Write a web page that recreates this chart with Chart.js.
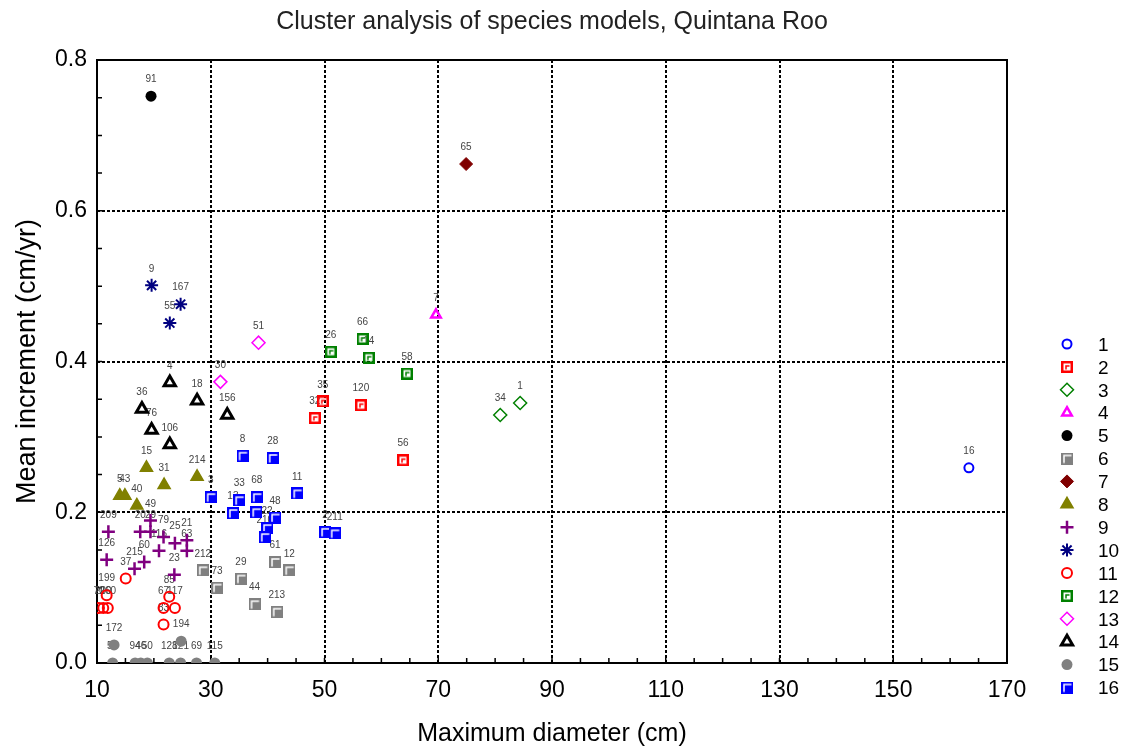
<!DOCTYPE html>
<html>
<head>
<meta charset="utf-8">
<script src="https://cdn.jsdelivr.net/npm/chart.js@4.4.0/dist/chart.umd.min.js"></script>
<style>
  html, body { margin: 0; padding: 0; background: #fff; }
</style>
</head>
<body>
<canvas id="c" width="1125" height="749"></canvas>
<script>
const FONT = "'Liberation Sans', Arial, sans-serif";

// cluster names (legend)
const clusterNames = ["1","2","3","4","5","6","7","8","9","10","11","12","13","14","15","16"];

// maximum diameter (cm) per cluster
const diameters = [
  [163.3],
  [49.7, 48.3, 56.4, 63.8],
  [84.4, 80.9],
  [69.6],
  [19.5],
  [28.6, 31.1, 35.3, 37.7, 41.3, 43.8, 41.6],
  [74.9],
  [18.7, 21.8, 27.6, 14.0, 14.9, 17.0],
  [12.0, 11.7, 17.6, 19.4, 19.4, 21.7, 23.7, 25.8, 20.9, 25.8, 18.3, 16.6, 23.6],
  [19.6, 24.7, 22.8],
  [15.05, 11.7, 10.35, 11.1, 11.9, 22.7, 21.7, 23.7, 21.7],
  [51.1, 56.7, 57.8, 64.5],
  [38.4, 31.7],
  [22.8, 27.6, 17.9, 19.6, 22.8, 32.9],
  [13.0, 24.8, 12.75, 16.7, 17.7, 18.85, 22.7, 24.7, 27.5, 30.7],
  [35.6, 40.9, 30.0, 35.0, 38.1, 45.2, 33.9, 38.0, 41.3, 39.9, 39.5, 50.1, 51.8]
];

// mean increment (cm/yr) per cluster
const increments = [
  [0.259],
  [0.347, 0.325, 0.342, 0.269],
  [0.345, 0.329],
  [0.462],
  [0.752],
  [0.123, 0.100, 0.112, 0.078, 0.134, 0.123, 0.068],
  [0.662],
  [0.259, 0.236, 0.247, 0.222, 0.222, 0.209],
  [0.174, 0.137, 0.174, 0.174, 0.189, 0.167, 0.159, 0.163, 0.149, 0.149, 0.134, 0.125, 0.117],
  [0.501, 0.476, 0.451],
  [0.112, 0.090, 0.073, 0.073, 0.073, 0.088, 0.073, 0.073, 0.051],
  [0.413, 0.430, 0.405, 0.384],
  [0.425, 0.373],
  [0.372, 0.348, 0.337, 0.309, 0.290, 0.329],
  [0.024, 0.029, 0, 0, 0, 0, 0, 0, 0, 0],
  [0.275, 0.272, 0.220, 0.216, 0.220, 0.225, 0.199, 0.200, 0.193, 0.179, 0.167, 0.174, 0.172]
];

// species number shown next to each point
const speciesIds = [
  ["16"],
  ["35", "32", "120", "56"],
  ["1", "34"],
  ["7"],
  ["91"],
  ["212", "73", "29", "44", "61", "12", "213"],
  ["65"],
  ["15", "31", "214", "5", "43", "40"],
  ["209", "126", "20", "29", "49", "79", "25", "21", "116", "63", "60", "215", "23"],
  ["9", "167", "55"],
  ["37", "199", "70", "200", "260", "85", "67", "117", "83"],
  ["26", "66", "14", "58"],
  ["51", "30"],
  ["4", "18", "36", "76", "106", "156"],
  ["172", "194", "59", "94", "46", "50", "128", "121", "69", "115"],
  ["8", "28", "3", "33", "68", "11", "13", "19", "48", "22", "210", "2", "211"]
];

const xTickValues = [10, 30, 50, 70, 90, 110, 130, 150, 170];
const yTickValues = [0, 0.2, 0.4, 0.6, 0.8];

// square markers with the little corner mark
function squareMark(color, filled) {
  const c = document.createElement('canvas');
  c.width = 12; c.height = 12;
  const g = c.getContext('2d');
  if (filled) {
    g.fillStyle = color;
    g.fillRect(0, 0, 12, 12);
    g.strokeStyle = '#fff';
    g.lineWidth = 1.5;
    g.beginPath(); g.moveTo(3, 10.5); g.lineTo(3, 3); g.lineTo(10.5, 3); g.stroke();
  } else {
    g.strokeStyle = color;
    g.lineWidth = 2.5;
    g.strokeRect(1.25, 1.25, 9.5, 9.5);
    g.lineWidth = 1.5;
    g.beginPath(); g.moveTo(5, 8.5); g.lineTo(5, 5); g.lineTo(8.5, 5); g.stroke();
  }
  return c;
}

const NONE = 'rgba(0,0,0,0)';
const markers = [
  { style: 'circle', r: 4.5, bw: 2, bg: NONE, fg: '#0000ff' },
  { style: squareMark('#ff0000', false), r: 6, bw: 0, bg: NONE, fg: '#ff0000' },
  { style: 'rectRot', r: 6.5, bw: 1.5, bg: NONE, fg: '#008000' },
  { style: 'triangle', r: 5.5, bw: 2.5, bg: NONE, fg: '#ff00ff' },
  { style: 'circle', r: 5.5, bw: 0, bg: '#000000', fg: '#000000' },
  { style: squareMark('#808080', true), r: 6, bw: 0, bg: '#808080', fg: '#808080' },
  { style: 'rectRot', r: 6.5, bw: 1, bg: '#800000', fg: '#800000' },
  { style: 'triangle', r: 7, bw: 1.5, bg: '#808000', fg: '#808000' },
  { style: 'cross', r: 6.5, bw: 2.5, bg: NONE, fg: '#800080' },
  { style: 'star', r: 6.5, bw: 2, bg: NONE, fg: '#000080' },
  { style: 'circle', r: 5, bw: 2, bg: NONE, fg: '#ff0000' },
  { style: squareMark('#008000', false), r: 6, bw: 0, bg: NONE, fg: '#008000' },
  { style: 'rectRot', r: 6.5, bw: 1.5, bg: NONE, fg: '#ff00ff' },
  { style: 'triangle', r: 6.5, bw: 3, bg: NONE, fg: '#000000' },
  { style: 'circle', r: 5.5, bw: 0, bg: '#808080', fg: '#808080' },
  { style: squareMark('#0000ff', true), r: 6, bw: 0, bg: '#0000ff', fg: '#0000ff' }
];

const datasets = clusterNames.map((name, i) => ({
  label: name,
  data: diameters[i].map((d, j) => ({ x: d, y: increments[i][j] })),
  pointStyle: markers[i].style,
  pointRadius: markers[i].r,
  pointBorderWidth: markers[i].bw,
  pointBackgroundColor: markers[i].bg,
  pointBorderColor: markers[i].fg,
  showLine: false
}));

// frame, minor ticks, point labels and the legend column
const decorations = {
  id: 'decorations',
  beforeDatasetsDraw(chart) {
    const { ctx, chartArea: a, scales: { x, y } } = chart;
    ctx.save();
    ctx.strokeStyle = '#000';
    ctx.lineWidth = 2;
    ctx.strokeRect(a.left, a.top, a.right - a.left, a.bottom - a.top);
    ctx.lineWidth = 1.5;
    ctx.beginPath();
    for (let v = x.min; v <= x.max; v += 5) {
      const px = x.getPixelForValue(v);
      ctx.moveTo(px, a.bottom); ctx.lineTo(px, a.bottom - 5);
    }
    for (let v = y.min; v <= y.max + 1e-9; v += 0.05) {
      const py = y.getPixelForValue(v);
      ctx.moveTo(a.left, py); ctx.lineTo(a.left + 5, py);
    }
    ctx.stroke();

    ctx.font = '10px ' + FONT;
    ctx.fillStyle = '#444';
    ctx.textAlign = 'center';
    ctx.textBaseline = 'middle';
    chart.data.datasets.forEach((ds, i) => {
      chart.getDatasetMeta(i).data.forEach((el, j) => {
        ctx.fillText(speciesIds[i][j], el.x, el.y - 16.5);
      });
    });
    ctx.restore();
  },
  afterDraw(chart) {
    const { ctx, chartArea: a } = chart;
    ctx.save();
    ctx.font = '19px ' + FONT;
    ctx.textAlign = 'left';
    ctx.textBaseline = 'middle';
    chart.data.datasets.forEach((ds, i) => {
      const cy = 344 + i * 22.9;
      const cx = a.right + 60;
      ctx.fillStyle = ds.pointBackgroundColor;
      ctx.strokeStyle = ds.pointBorderColor;
      ctx.lineWidth = ds.pointBorderWidth;
      Chart.helpers.drawPoint(ctx, {
        pointStyle: ds.pointStyle, radius: ds.pointRadius,
        borderWidth: ds.pointBorderWidth, rotation: 0
      }, cx, cy);
      ctx.fillStyle = '#000';
      ctx.fillText(ds.label, a.right + 91, cy + 1.5);
    });
    ctx.restore();
  }
};

Chart.defaults.font.family = FONT;

new Chart(document.getElementById('c'), {
  type: 'scatter',
  data: { datasets },
  plugins: [decorations],
  options: {
    responsive: false,
    devicePixelRatio: 1,
    animation: false,
    events: [],
    layout: { padding: { left: 0, right: 118, top: 0, bottom: 0 } },
    plugins: {
      legend: { display: false },
      tooltip: { enabled: false },
      title: {
        display: true,
        fullSize: false,
        text: 'Cluster analysis of species models, Quintana Roo',
        color: '#222',
        font: { size: 25, weight: 'normal' },
        padding: { top: 7, bottom: 23 }
      }
    },
    scales: {
      x: {
        type: 'linear',
        min: 10,
        max: 170,
        afterBuildTicks: s => { s.ticks = xTickValues.map(v => ({ value: v })); },
        afterFit: s => { s.height = 86; },
        ticks: { color: '#000', font: { size: 23 }, padding: 14, maxRotation: 0, autoSkip: false },
        grid: { color: '#000', lineWidth: 2, drawTicks: false },
        border: { display: false, dash: [3, 2] },
        title: {
          display: true, text: 'Maximum diameter (cm)', color: '#000',
          font: { size: 25 }, padding: { top: 0, bottom: 0 }
        }
      },
      y: {
        type: 'linear',
        min: 0,
        max: 0.8,
        afterBuildTicks: s => { s.ticks = yTickValues.map(v => ({ value: v })); },
        afterFit: s => { s.width = 97; },
        ticks: { color: '#000', font: { size: 23 }, padding: 10, callback: v => v.toFixed(1) },
        grid: { color: '#000', lineWidth: 2, drawTicks: false },
        border: { display: false, dash: [3, 2] },
        title: {
          display: true, text: 'Mean increment (cm/yr)', color: '#000',
          font: { size: 27 }, padding: { top: 11, bottom: 0 }
        }
      }
    }
  }
});
</script>
</body>
</html>
